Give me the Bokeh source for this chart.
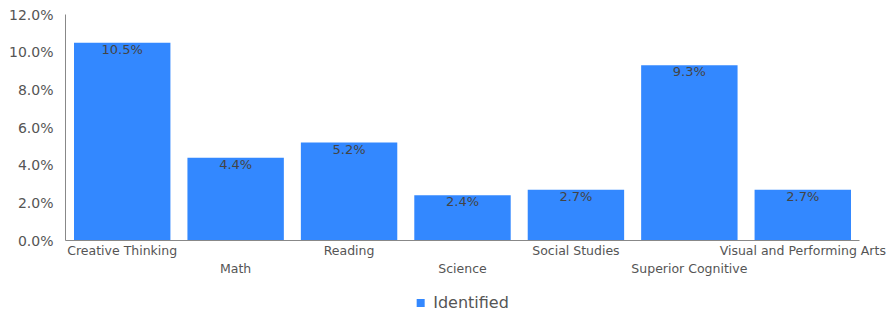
from bokeh.plotting import figure
from bokeh.layouts import column
from bokeh.models import (ColumnDataSource, LabelSet, NumeralTickFormatter, FixedTicker, Legend,
                          LegendItem, Range1d, CategoricalAxis, CustomJSTickFormatter)
from bokeh.core.properties import value
from bokeh.embed import file_html
from bokeh.resources import INLINE

categories = ["Creative Thinking", "Math", "Reading", "Science", "Social Studies",
              "Superior Cognitive", "Visual and Performing Arts"]
identified = [0.105, 0.044, 0.052, 0.024, 0.027, 0.093, 0.027]
value_labels = ["10.5%", "4.4%", "5.2%", "2.4%", "2.7%", "9.3%", "2.7%"]
y_ticks = [0.0, 0.02, 0.04, 0.06, 0.08, 0.10, 0.12]
series_name = "Identified"

FONT = "DejaVu Sans"
BAR = "#3388ff"
TXT = "#555555"

src = ColumnDataSource(dict(cat=categories, val=identified, lab=value_labels))

p = figure(x_range=categories, y_range=Range1d(0, 0.12), width=888, height=278,
           output_backend="svg", toolbar_location=None,
           min_border_left=65, min_border_right=29, min_border_top=14, min_border_bottom=10)
p.outline_line_color = None
p.grid.visible = False

r = p.vbar(x="cat", top="val", width=0.85, source=src, color=BAR, line_color=None)

p.yaxis.ticker = FixedTicker(ticks=y_ticks)
p.yaxis.formatter = NumeralTickFormatter(format="0.0%")
p.yaxis.major_label_text_font = FONT
p.yaxis.major_label_text_font_size = "14px"
p.yaxis.major_label_text_color = TXT
p.yaxis.major_tick_line_color = None
p.yaxis.minor_tick_line_color = None
p.yaxis.axis_line_color = "#888888"
p.yaxis.major_label_standoff = 6

# first row of staggered category labels
p.xaxis.formatter = CustomJSTickFormatter(code="return (index % 2 == 0) ? tick : '';")
p.xaxis.major_label_text_font = FONT
p.xaxis.major_label_text_font_size = "12.5px"
p.xaxis.major_label_text_color = TXT
p.xaxis.major_tick_line_color = None
p.xaxis.major_tick_out = 0
p.xaxis.major_tick_in = 0
p.xaxis.axis_line_color = "#888888"
p.xaxis.major_label_standoff = 2

# second row of staggered category labels
ax2 = CategoricalAxis(formatter=CustomJSTickFormatter(code="return (index % 2 == 1) ? tick : '';"),
                      major_label_text_font=FONT, major_label_text_font_size="12.5px",
                      major_label_text_color=TXT, major_tick_line_color=None,
                      major_tick_out=0, major_tick_in=0,
                      axis_line_color=None, major_label_standoff=0)
p.add_layout(ax2, "below")

vl = LabelSet(x="cat", y="val", text="lab", source=src, text_align="center",
              text_baseline="top", y_offset=1, text_font=value(FONT),
              text_font_size="13px", text_color="#444444")
p.add_layout(vl)

# legend strip below the chart
lg = figure(width=888, height=36, output_backend="svg", toolbar_location=None,
            x_axis_type=None, y_axis_type=None, x_range=(0, 1), y_range=(0, 1),
            min_border_left=26, min_border_right=0, min_border_top=12, min_border_bottom=0)
lg.outline_line_color = None
lg.grid.visible = False
dummy = lg.vbar(x=[0.5], top=[0.0], bottom=[0.0], width=0.0, color=BAR, line_color=None)
legend = Legend(items=[LegendItem(label=series_name, renderers=[dummy])],
                location="center", orientation="horizontal",
                glyph_width=10, glyph_height=10, label_standoff=8, label_text_font=FONT,
                label_text_font_size="16px", label_text_color=TXT,
                border_line_color=None, background_fill_alpha=0, padding=0, margin=0)
lg.add_layout(legend, "center")

layout = column(p, lg, spacing=0)
open("out.html", "w").write(file_html(layout, INLINE))
